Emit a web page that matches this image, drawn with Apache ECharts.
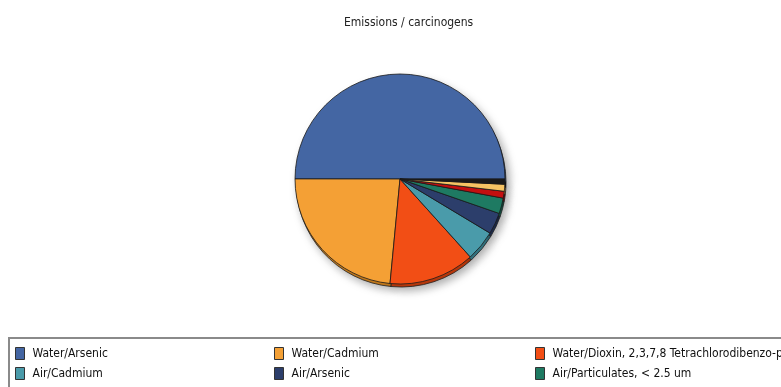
<!DOCTYPE html>
<html><head><meta charset="utf-8">
<script src="https://cdn.jsdelivr.net/npm/echarts@6/dist/echarts.min.js"></script>
<style>html,body{margin:0;padding:0;background:#fff;}#c{width:781px;height:387px;}</style>
</head><body><div id="c"></div>
<script>
var categories = ["Water/Arsenic","Water/Cadmium","Water/Dioxin, 2,3,7,8 Tetrachlorodibenzo-p-dioxin","Air/Cadmium","Air/Arsenic","Air/Particulates, < 2.5 um","Water/Chromium VI","Air/Nickel","Air/Other"];
var values = [50.0, 23.5, 13.2, 4.7, 3.3, 2.4, 1.05, 1.07, 0.8];
var colors = ["#4466A3","#F4A035","#F24E15","#4A9BAA","#2C3E6B","#1E7A62","#C30F0F","#F6C363","#1A1A1A"];
var darkColors = ["#2E4A7A","#C47A1C","#B9380C","#337480","#1C2A4A","#125444","#8A0808","#C49640","#000000"];
var legendItems = [0,1,2,3,4,5];
var legendX = [15, 274, 535];
var legendY = [347, 367];

var chart = echarts.init(document.getElementById('c'));
var mainData = categories.map(function(n,i){return {name:n,value:values[i],itemStyle:{color:colors[i]}};});
var baseData = categories.map(function(n,i){return {name:n+' ',value:values[i],itemStyle:{color:darkColors[i]}};});
var legends = legendItems.map(function(i,k){
  return {orient:'horizontal',left:legendX[k%3],top:legendY[Math.floor(k/3)],itemWidth:9,itemHeight:12,icon:'rect',
    selectedMode:false,padding:0,itemGap:0,
    itemStyle:{borderColor:'#333',borderWidth:1},
    textStyle:{fontFamily:'DejaVu Sans Condensed, sans-serif',fontSize:12,color:'#111',padding:[0,0,0,3]},
    data:[categories[i]]};
});
chart.setOption({
  animation:false,
  title:{text:'Emissions / carcinogens',left:339,top:12,textStyle:{fontFamily:'DejaVu Sans Condensed, sans-serif',fontSize:12,fontWeight:'normal',color:'#222'}},
  legend:legends,
  graphic:[{type:'rect',shape:{x:9,y:338,width:800,height:80},style:{fill:'#fff',stroke:'#8a8a8a',lineWidth:2},z:-1}],
  series:[
    {type:'pie',center:[401,182],radius:[0,105],startAngle:0,clockwise:false,label:{show:false},labelLine:{show:false},silent:true,
     itemStyle:{borderColor:'#222',borderWidth:0.8,shadowBlur:10,shadowColor:'rgba(0,0,0,0.35)',shadowOffsetX:3,shadowOffsetY:3},
     data:baseData,z:1},
    {type:'pie',center:[400,179],radius:[0,105],startAngle:0,clockwise:false,label:{show:false},labelLine:{show:false},
     itemStyle:{borderColor:'#1a1a1a',borderWidth:0.8},emphasis:{disabled:true},
     data:mainData,z:2}
  ]
});
</script></body></html>
